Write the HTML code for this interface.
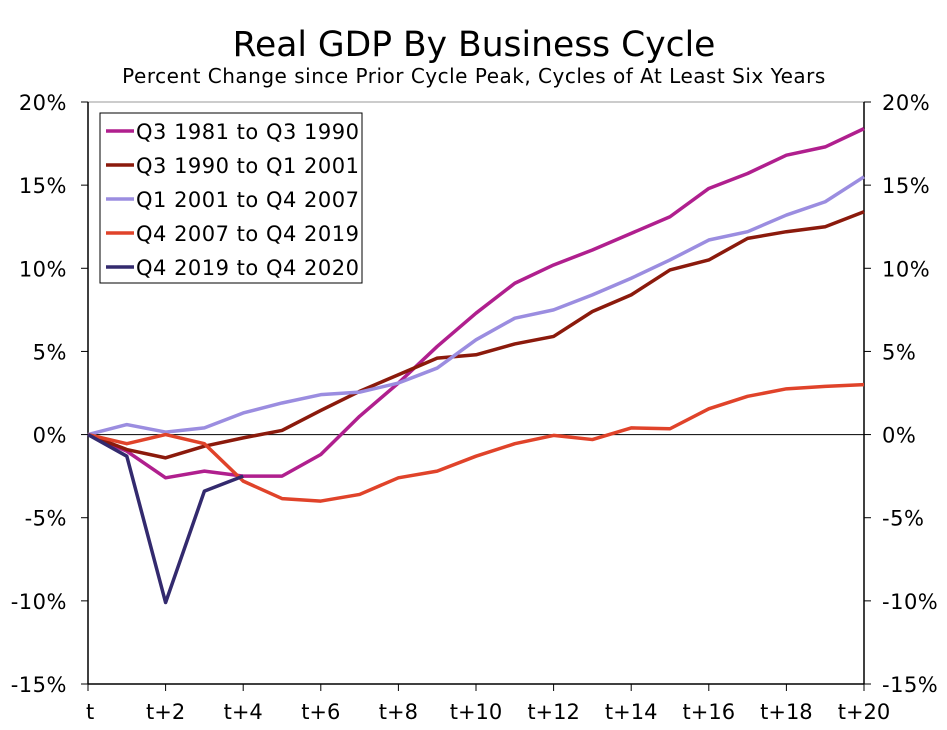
<!DOCTYPE html>
<html><head><meta charset="utf-8"><style>
html,body{margin:0;padding:0;background:#fff;}
svg text{font-family:"DejaVu Sans","Liberation Sans",sans-serif;fill:#000;}
</style></head><body>
<svg id="chart" width="947" height="725" viewBox="0 0 947 725">
<text x="474" y="56" font-size="34.5" text-anchor="middle">Real GDP By Business Cycle</text>
<text x="474" y="83" font-size="20" letter-spacing="0.5" text-anchor="middle">Percent Change since Prior Cycle Peak, Cycles of At Least Six Years</text>
<g id="axes"></g>
<g id="series"></g>
<g id="legend"></g>
</svg>
<script>
const periods = [0,1,2,3,4,5,6,7,8,9,10,11,12,13,14,15,16,17,18,19,20];
const xTickLabels = ["t","t+2","t+4","t+6","t+8","t+10","t+12","t+14","t+16","t+18","t+20"];
const yTicks = [-15,-10,-5,0,5,10,15,20];
const names = ["Q3 1981 to Q3 1990","Q3 1990 to Q1 2001","Q1 2001 to Q4 2007","Q4 2007 to Q4 2019","Q4 2019 to Q4 2020"];
const s1981 = [0,-1.0,-2.6,-2.2,-2.5,-2.5,-1.2,1.1,3.1,5.3,7.3,9.1,10.2,11.1,12.1,13.1,14.8,15.7,16.8,17.3,18.4];
const s1990 = [0,-0.9,-1.4,-0.7,-0.2,0.25,1.45,2.6,3.6,4.6,4.8,5.45,5.9,7.4,8.4,9.9,10.5,11.8,12.2,12.5,13.4];
const s2001 = [0,0.6,0.15,0.4,1.3,1.9,2.4,2.55,3.1,4.0,5.7,7.0,7.5,8.4,9.4,10.5,11.7,12.2,13.2,14.0,15.5];
const s2007 = [0,-0.55,0,-0.55,-2.8,-3.85,-4.0,-3.6,-2.6,-2.2,-1.3,-0.55,-0.05,-0.3,0.4,0.35,1.55,2.3,2.75,2.9,3.0];
const s2019 = [0,-1.3,-10.1,-3.4,-2.5];
const colors = ["#b01f8e","#8b1a0c","#9b8de0","#e0432a","#332a6e"];
const allSeries = [s1981,s1990,s2001,s2007,s2019];

const NS="http://www.w3.org/2000/svg";
const L=88,R=864,T=102,B=684;
const xs=i=>L+(R-L)*i/20;
const ys=v=>B-(B-T)*(v+15)/35;
function mk(tag,attrs,parent){const e=document.createElementNS(NS,tag);for(const k in attrs)e.setAttribute(k,attrs[k]);parent.appendChild(e);return e;}
const ax=document.getElementById('axes');
let e;
e=mk('line',{x1:L,y1:T,x2:R,y2:T,stroke:'#999','stroke-width':1},ax);


e=mk('line',{x1:L,y1:T,x2:L,y2:B,stroke:'#000','stroke-width':1.5},ax);


e=mk('line',{x1:R,y1:T,x2:R,y2:B,stroke:'#000','stroke-width':1.5},ax);


e=mk('line',{x1:L,y1:B,x2:R,y2:B,stroke:'#000','stroke-width':1.5},ax);


e=mk('line',{x1:L,y1:ys(0),x2:R,y2:ys(0),stroke:'#000','stroke-width':1},ax);


yTicks.forEach(v=>{
  const y=ys(v);
  mk('line',{x1:L-7,y1:y,x2:L,y2:y,stroke:'#000','stroke-width':1},ax);
  mk('line',{x1:R,y1:y,x2:R+7,y2:y,stroke:'#000','stroke-width':1},ax);
  e=mk('text',{x:67,y:y+8,'font-size':21,'letter-spacing':'0.5','text-anchor':'end'},ax);
  e.textContent=v+'%';
  
  
  e=mk('text',{x:882,y:y+8,'font-size':21,'letter-spacing':'0.5','text-anchor':'start'},ax);
  e.textContent=v+'%';
  
  
});
xTickLabels.forEach((lab,k)=>{
  const x=xs(k*2);
  mk('line',{x1:x,y1:B,x2:x,y2:B+7,stroke:'#000','stroke-width':1},ax);
  e=mk('text',{x:k===0?x-2:x,y:719,'font-size':21,'text-anchor':k===0?'start':'middle'},ax);
  e.textContent=lab;
  
  
});
const sg=document.getElementById('series');
allSeries.forEach((s,j)=>{
  const pts=s.map((v,i)=>xs(periods[i])+','+ys(v)).join(' ');
  e=mk('polyline',{points:pts,fill:'none',stroke:colors[j],'stroke-width':3.5,'stroke-linejoin':'round'},sg);
  
  
});
const lg=document.getElementById('legend');
e=mk('rect',{x:100,y:113,width:262,height:170,fill:'#fff',stroke:'#000','stroke-width':1},lg);


names.forEach((n,j)=>{
  const y=131+j*34;
  mk('line',{x1:106,y1:y,x2:134,y2:y,stroke:colors[j],'stroke-width':3.5},lg);
  e=mk('text',{x:136,y:y+8,'font-size':21,'letter-spacing':'0.5'},lg);
  e.textContent=n;
  
  
});
</script>
</body></html>
